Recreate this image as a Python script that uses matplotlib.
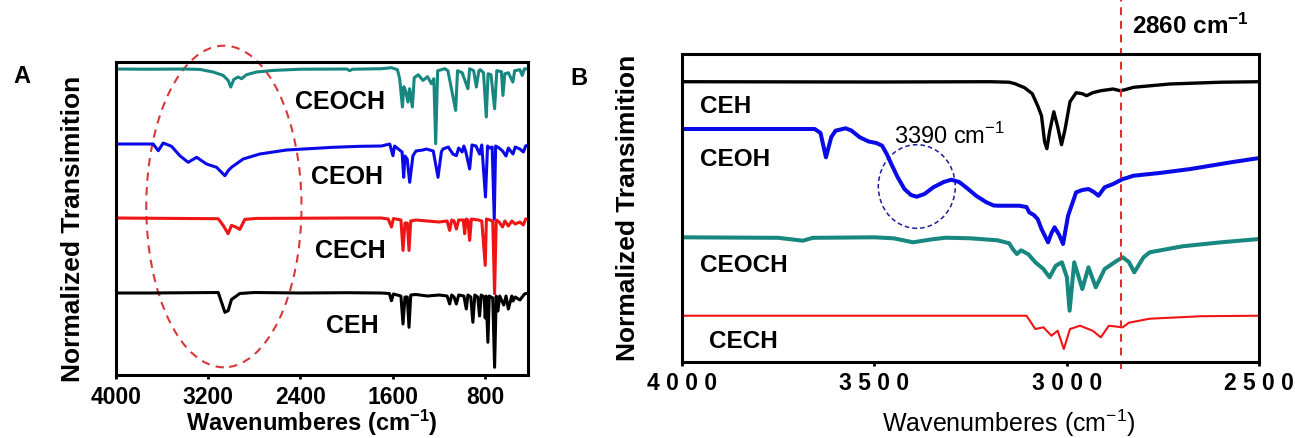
import numpy as np
import matplotlib.pyplot as plt
from matplotlib.patches import Ellipse

plt.rcParams['font.family'] = ['Liberation Sans', 'DejaVu Sans']
plt.rcParams['mathtext.fontset'] = 'custom'
plt.rcParams['mathtext.rm'] = 'Liberation Sans'
plt.rcParams['mathtext.bf'] = 'Liberation Sans:bold'

# ---- full range spectra (panel A), transmittance with baseline = 100 ----
a_ceoch_w = [4000, 3700, 3400, 3271, 3156, 3069, 3026, 3003, 2977, 2939, 2910, 2867, 2780, 2637, 2400,
             2000, 1973, 1950, 1700, 1612, 1560, 1541, 1517, 1505, 1490, 1469, 1455, 1431, 1415, 1380,
             1339, 1300, 1266, 1245, 1229, 1212, 1150, 1123, 1056, 1040, 1000, 950, 935, 900, 877,
             855, 843, 815, 791, 775, 750, 719, 700, 660, 647, 630, 600, 561, 545, 500, 480, 460, 430]
a_ceoch_t = [100, 99.8, 100, 99.6, 97, 93.6, 88.6, 82, 89.6, 92, 90.3, 94.3, 97, 98.6, 99.8,
             100, 98.3, 99.8, 100.3, 101.3, 99.3, 90.3, 62, 82.3, 78.3, 67, 80.3, 62, 91.3, 94.3,
             88.6, 92.3, 85.3, 90.3, 25.3, 98.3, 100.3, 98.3, 58.6, 98.3, 96.3, 80.3, 100.3, 98.3, 82,
             98.3, 99.3, 96.3, 52, 95.3, 94.3, 60.3, 98.3, 97.3, 73.6, 95.3, 96.3, 87, 98.3, 99.3, 93.6, 100.3, 100]

a_ceoh_w = [4000, 3675, 3631, 3588, 3516, 3444, 3372, 3299, 3213, 3126, 3054, 3026, 2997, 2896, 2752,
            2521, 2118, 1887, 1700, 1627, 1599, 1585, 1520, 1506, 1495, 1476, 1454, 1426, 1400, 1340,
            1310, 1250, 1209, 1180, 1166, 1120, 1080, 1050, 1030, 1000, 985, 970, 935, 915, 880,
            849, 830, 798, 780, 760, 740, 722, 710, 680, 650, 620, 600, 560, 540, 500, 470, 450, 430]
a_ceoh_t = [100, 100, 93.3, 101, 97.7, 88.3, 81.7, 86.7, 80, 76.7, 68.3, 73.3, 76.7, 85, 90,
            94, 96.7, 97.7, 98, 100, 88.3, 98, 92, 66.7, 88, 85, 61.7, 88.3, 93, 94,
            95, 93, 66.7, 92, 95, 97, 90, 88.3, 96, 92, 98, 93, 75, 99, 98,
            90, 99, 47, 98, 96, 97, 25, 98, 96, 93, 88, 96, 90, 97, 95, 92, 98, 99]

a_cech_w = [4000, 3112, 3069, 3026, 2997, 2960, 2925, 2882, 2780, 2000, 1700, 1640, 1612, 1595, 1530,
            1512, 1495, 1475, 1460, 1445, 1400, 1300, 1200, 1130, 1108, 1090, 1070, 1050, 1030, 990,
            978, 965, 950, 935, 920, 860, 830, 800, 790, 760, 735, 719, 705, 680, 650,
            630, 600, 570, 540, 500, 470, 450, 430]
a_cech_t = [100, 99.3, 92.6, 84.3, 92.6, 91, 88.6, 98.6, 99.6, 100, 100, 99, 91, 99.5, 98,
            67.6, 95, 95, 67.6, 97, 98, 97, 96, 97, 87.6, 98, 97, 89, 98, 98,
            84.3, 99, 98, 77.6, 99, 98, 97, 52.6, 99, 98, 97, 24.3, 98, 96, 91,
            97, 92, 97, 94, 96, 93, 99, 99]

a_ceh_w = [4000, 3700, 3112, 3083, 3054, 3026, 2997, 2925, 2800, 2400, 2000, 1700, 1630, 1612, 1595,
           1530, 1512, 1495, 1475, 1460, 1445, 1400, 1300, 1200, 1130, 1108, 1090, 1070, 1050, 1030,
           985, 964, 950, 925, 907, 890, 865, 849, 835, 810, 800, 792, 777, 765, 735,
           719, 705, 690, 675, 640, 620, 600, 570, 560, 540, 500, 480, 460, 430]
a_ceh_t = [100, 100, 100.5, 90.7, 80.7, 82.3, 93.5, 99.5, 100.5, 100, 100.3, 100, 99.5, 92.3, 99,
           97, 69, 96, 96, 65.7, 98, 98.5, 97, 98, 97, 89, 98, 96, 89, 98,
           97, 84, 98, 96, 70.7, 98, 96, 77, 98, 96, 75, 97, 50.7, 97, 95,
           25.7, 97, 82, 97, 88, 97, 84, 97, 92, 96, 93, 96, 99, 100]

a_names = ['CEOCH', 'CEOH', 'CECH', 'CEH']
a_offsets = [206, 131, 57, -18]
a_label_x = [2060, 2000, 1965, 1950]
a_ticks = [4000, 3200, 2400, 1600, 800]

# ---- C-H / O-H region (panel B) ----
b_ceh_w = [4000, 3500, 3200, 3150, 3135, 3110, 3090, 3076, 3066, 3058, 3052, 3045, 3034, 3024, 3014,
           3005, 2992, 2976, 2960, 2949, 2933, 2912, 2880, 2862, 2849, 2827, 2733, 2600, 2500]
b_ceh_t = [100, 99.7, 100, 99.5, 98, 94, 88, 76, 66, 40, 33, 50, 70, 55, 37,
           52, 80, 89, 88, 86, 89, 91, 92.7, 91, 92, 94.4, 97.7, 99.5, 100]

b_ceoh_w = [4000, 3700, 3655, 3640, 3626, 3612, 3601, 3575, 3560, 3538, 3515, 3495, 3480, 3468, 3454,
            3440, 3422, 3405, 3390, 3370, 3347, 3320, 3300, 3280, 3262, 3235, 3209, 3190, 3177, 3124,
            3105, 3098, 3086, 3076, 3066, 3049, 3040, 3032, 3020, 3010, 2997, 2976, 2960, 2944, 2930,
            2918, 2902, 2880, 2855, 2845, 2827, 2760, 2679, 2574, 2500]
b_ceoh_t = [100, 100, 100, 96, 71.7, 92, 98.3, 100.7, 98.5, 91.7, 87.5, 86, 83.3, 75, 63.3,
            52, 40, 34, 32.3, 35, 41.7, 47, 49.3, 47, 41.7, 33, 26.7, 23.5, 23.3, 23.3,
            22, 16.7, 14, 10, 0, -13.3, -4, 1.7, -6, -15, 13.3, 36.7, 39, 40, 37,
            33.3, 41.7, 45, 50, 51, 53.3, 56, 60, 66.7, 71]

b_ceoch_w = [4000, 3750, 3686, 3660, 3500, 3450, 3400, 3350, 3315, 3250, 3180, 3150, 3140, 3130, 3119,
             3100, 3082, 3061, 3045, 3029, 3013, 3000, 2993, 2981, 2960, 2944, 2925, 2902, 2870, 2855,
             2849, 2839, 2825, 2801, 2785, 2700, 2600, 2500]
b_ceoch_t = [100, 99.5, 96.6, 99.5, 100, 99, 95, 98, 99.6, 99, 97, 94, 88, 83.3, 87,
             83, 75, 68.3, 60, 71.6, 75, 60, 26.6, 75, 48.3, 70, 50, 68.3, 76.6, 80,
             78.3, 75.3, 65, 80, 85, 91, 95, 98.3]

b_cech_w = [4000, 3200, 3105, 3082, 3061, 3040, 3024, 3008, 2992, 2966, 2933, 2912, 2891, 2855, 2839,
            2785, 2650, 2500]
b_cech_t = [100, 100, 100, 86.7, 88.4, 80, 85, 66.7, 86.7, 90, 85, 78.4, 90, 88.4, 93,
            97, 99.5, 100]

b_names = ['CEH', 'CEOH', 'CEOCH', 'CECH']
b_offsets = [180.6, 133.3, 25, -53.4]
b_label_x = [3952, 3952, 3952, 3930]
b_ticks = [4000, 3500, 3000, 2500]
oh_peak = 3390
ch_line = 2860

teal = '#17877f'
blue = '#0a0ae8'
red = '#f01414'
colors_a = [teal, blue, red, 'black']
colors_b = ['black', blue, teal, red]

fig = plt.figure(figsize=(12.95, 4.39), dpi=100)
ax1 = fig.add_axes([0.0893, 0.1435, 0.3184, 0.7141])
ax2 = fig.add_axes([0.5266, 0.1724, 0.4459, 0.7023])

for ax in (ax1, ax2):
    for s in ax.spines.values():
        s.set_linewidth(2.2)
    ax.set_yticks([])
    ax.tick_params(axis='x', direction='out', length=3, width=2)

# panel A
a_w = [a_ceoch_w, a_ceoh_w, a_cech_w, a_ceh_w]
a_t = [a_ceoch_t, a_ceoh_t, a_cech_t, a_ceh_t]
for w, t, off, c in zip(a_w, a_t, a_offsets, colors_a):
    ax1.plot(w, np.array(t) + off, color=c, lw=2.2)
for name, off, x in zip(a_names, a_offsets, a_label_x):
    ax1.text(x, off + 68, name, ha='center', va='center', fontsize=18, fontweight='bold')

ax1.add_patch(Ellipse((3063, 168.5), width=1344, height=321.6, fill=False, ec='#d9383a',
                      ls=(0, (4, 3)), lw=1.5, clip_on=False))
ax1.set_xlim(4000, 430)
ax1.set_ylim(0, 313.5)
ax1.set_xticks(a_ticks)
ax1.set_xticklabels([str(v) for v in a_ticks], fontsize=16.5, fontweight='bold')
ax1.tick_params(axis='x', pad=4)
fig.text(0.0565, 0.478, 'Normalized Transimition', rotation=90, ha='center', va='center',
         fontsize=19, fontweight='bold')
fig.text(0.2406, 0.036, r'Wavenumberes ($\mathbf{cm^{-1}}$)', ha='center', va='center',
         fontsize=17, fontweight='bold')
fig.text(0.0166, 0.826, 'A', ha='center', va='center', fontsize=17, fontweight='bold')

# panel B
b_w = [b_ceh_w, b_ceoh_w, b_ceoch_w, b_cech_w]
b_t = [b_ceh_t, b_ceoh_t, b_ceoch_t, b_cech_t]
b_lw = [2.4, 2.9, 2.9, 1.5]
for w, t, off, c, lw in zip(b_w, b_t, b_offsets, colors_b, b_lw):
    ax2.plot(w, np.array(t) + off, color=c, lw=lw)
b_label_dy = [76, 71, 73, 75]
for name, off, x, dy in zip(b_names, b_offsets, b_label_x, b_label_dy):
    ax2.text(x, off + dy, name, ha='left', va='center', fontsize=17.5, fontweight='bold')

ax2.add_patch(Ellipse((oh_peak, 175.8), width=200, height=83.6, fill=False, ec='#1c1c9c',
                      ls=(0, (3, 2)), lw=1.1))
ax2.text(3450, 227.3, r'%d cm$^{-1}$' % oh_peak, ha='left', va='center', fontsize=17)
ax2.plot([ch_line, ch_line], [-6.7, 363.3], color='#e8262a', ls=(0, (4, 3)), lw=1.4,
         clip_on=False)
ax2.text(2831, 336.6, r'%d $\mathbf{cm^{-1}}$' % ch_line, ha='left', va='center', fontsize=17.5,
         fontweight='bold')
ax2.set_xlim(4000, 2500)
ax2.set_ylim(0, 308.3)
ax2.set_xticks(b_ticks)
ax2.set_xticklabels([' '.join(str(v)) for v in b_ticks], fontsize=16.5, fontweight='bold')
ax2.tick_params(axis='x', pad=3)
fig.text(0.485, 0.527, 'Normalized Transimition', rotation=90, ha='center', va='center',
         fontsize=19, fontweight='bold')
fig.text(0.779, 0.036, r'Wavenumberes (cm$^{-1}$)', ha='center', va='center', fontsize=18)
fig.text(0.447, 0.822, 'B', ha='center', va='center', fontsize=17, fontweight='bold')

fig.savefig('out.png', dpi=100)
